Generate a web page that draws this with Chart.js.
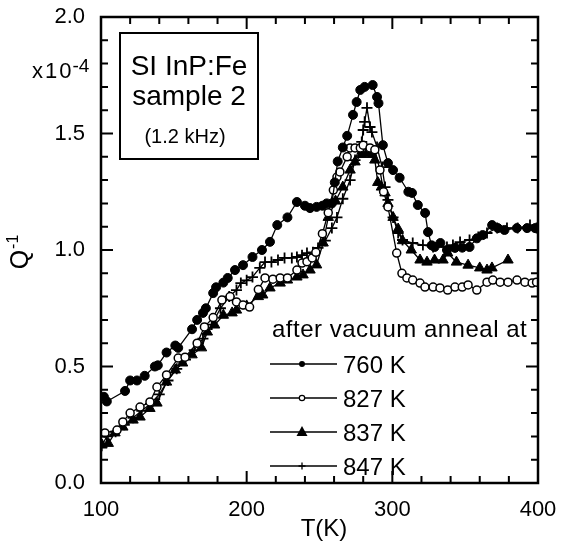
<!DOCTYPE html>
<html>
<head>
<meta charset="utf-8">
<script src="https://cdn.jsdelivr.net/npm/chart.js@4.4.1/dist/chart.umd.min.js"></script>
<style>
  body { margin: 0; background: #fff; }
  #wrap { width: 566px; height: 545px; }
</style>
</head>
<body>
<div id="wrap"><canvas id="qChart" width="566" height="545"></canvas></div>
<script>
// Q^-1 (x10^-4) vs T(K), SI InP:Fe sample 2, 1.2 kHz
const seriesNames = ['760 K', '827 K', '837 K', '847 K'];

const t760 = [102, 104, 116.5, 120, 124.7, 130, 137, 139, 145, 151, 153, 162.5, 166, 170, 172, 177, 179, 184, 187, 192, 197.5, 204, 210.5, 216, 221, 228, 234.5, 240, 243.5, 248, 252, 255, 258.5, 260.5, 262.5, 266, 269, 273, 275.5, 278, 281, 286.5, 289.5, 290.5, 293.5, 297, 300.5, 305, 311, 313.5, 317.5, 322.5, 324.5, 327, 329, 333, 337.5, 343, 348, 353, 358, 362, 368.5, 372.5, 377, 385.5, 392.5, 398];
const q760 = [0.37, 0.35, 0.395, 0.44, 0.44, 0.46, 0.50, 0.505, 0.56, 0.59, 0.58, 0.66, 0.70, 0.73, 0.75, 0.815, 0.84, 0.86, 0.88, 0.914, 0.935, 0.97, 1.0, 1.035, 1.107, 1.14, 1.206, 1.19, 1.18, 1.185, 1.19, 1.20, 1.20, 1.29, 1.38, 1.44, 1.49, 1.58, 1.635, 1.687, 1.70, 1.708, 1.657, 1.63, 1.45, 1.373, 1.343, 1.31, 1.25, 1.245, 1.193, 1.159, 1.077, 1.02, 1.013, 1.03, 1.0, 1.009, 1.01, 1.013, 1.05, 1.064, 1.107, 1.094, 1.086, 1.094, 1.094, 1.094];

const t827 = [102.7, 111, 115, 120, 126.8, 133.6, 138.4, 145, 153, 157.7, 166, 171, 177, 183, 188.6, 193, 197.5, 202, 208, 212.6, 218, 223, 228, 234.5, 238, 241.4, 245, 247.5, 252, 256, 259.5, 262, 264, 269, 271, 274.4, 278, 280, 284.7, 288, 291.5, 294, 297, 303, 306.6, 310, 314, 319, 322.4, 328, 332.7, 338, 343, 348, 352, 358, 365, 369, 374, 379.4, 385.6, 391, 396, 399];
const q827 = [0.215, 0.227, 0.262, 0.30, 0.326, 0.348, 0.412, 0.464, 0.536, 0.54, 0.60, 0.67, 0.71, 0.785, 0.80, 0.777, 0.764, 0.755, 0.83, 0.88, 0.875, 0.88, 0.88, 0.914, 0.944, 0.95, 0.966, 0.99, 1.07, 1.16, 1.257, 1.313, 1.335, 1.40, 1.438, 1.438, 1.438, 1.45, 1.438, 1.43, 1.343, 1.25, 1.185, 0.987, 0.90, 0.88, 0.871, 0.858, 0.841, 0.841, 0.837, 0.828, 0.841, 0.841, 0.85, 0.828, 0.862, 0.871, 0.862, 0.862, 0.871, 0.862, 0.858, 0.862];

const t837 = [100.7, 105, 109.6, 115, 122, 126.8, 133.6, 138.4, 145, 151, 156, 162.5, 169, 173, 178, 184, 190, 193, 200, 208, 211, 216, 223, 228, 234.5, 238.7, 243.5, 248, 252.5, 256, 261, 266, 271, 274.4, 279, 282.6, 286, 288, 290, 292.5, 295, 297, 300.5, 304, 307, 313, 319, 323.8, 329, 334.8, 338, 344, 352, 360, 365, 368.4, 379.4];
const q837 = [0.163, 0.17, 0.215, 0.24, 0.27, 0.283, 0.32, 0.343, 0.433, 0.485, 0.515, 0.55, 0.58, 0.648, 0.678, 0.72, 0.73, 0.742, 0.76, 0.80, 0.807, 0.837, 0.858, 0.871, 0.884, 0.893, 0.914, 0.936, 1.03, 1.14, 1.21, 1.27, 1.343, 1.378, 1.41, 1.416, 1.41, 1.386, 1.29, 1.27, 1.245, 1.2, 1.14, 1.09, 1.04, 1.0, 0.957, 0.948, 0.957, 0.957, 0.987, 0.948, 0.935, 0.923, 0.914, 0.923, 0.957];

const t847 = [100.5, 104, 110, 116, 122, 128, 134, 140, 146, 152, 158, 164, 170, 176, 182, 188, 193, 196, 200, 204, 209, 212.6, 217, 221.5, 226, 231, 234.5, 238, 241.4, 245.5, 249, 254, 258.5, 262, 266, 271, 274.4, 277, 279, 280, 281, 282.6, 284.7, 286, 289.5, 293, 295, 297, 300.5, 304, 307, 314, 321, 328, 337.5, 341.6, 346.5, 353, 359, 365, 372, 378.7, 386, 394.5, 399];
const q847 = [0.16, 0.20, 0.22, 0.25, 0.28, 0.31, 0.34, 0.38, 0.44, 0.49, 0.53, 0.57, 0.62, 0.68, 0.75, 0.80, 0.828, 0.858, 0.87, 0.884, 0.923, 0.948, 0.948, 0.957, 0.966, 0.966, 0.97, 0.978, 0.987, 0.99, 1.009, 1.04, 1.094, 1.14, 1.22, 1.30, 1.386, 1.43, 1.464, 1.515, 1.55, 1.61, 1.528, 1.506, 1.442, 1.356, 1.27, 1.215, 1.14, 1.073, 1.043, 1.03, 1.021, 1.013, 1.013, 1.021, 1.034, 1.043, 1.056, 1.073, 1.094, 1.094, 1.094, 1.107, 1.094];

const xTickLabels = [100, 200, 300, 400];
const yTickLabels = ['0.0', '0.5', '1.0', '1.5', '2.0'];

const FONT = "'Liberation Sans', Arial, Helvetica, sans-serif";

function toPts(xs, ys) {
    return xs.map((x, i) => ({ x: x, y: ys[i] }));
}

// marker styles per series
const markerStyles = [
    { pointStyle: 'circle', radius: 4.5, fill: '#000', bw: 1 },
    { pointStyle: 'circle', radius: 4, fill: '#fff', bw: 1.5 },
    { pointStyle: 'triangle', radius: 6, fill: '#000', bw: 1 },
    { pointStyle: 'cross', radius: 5.5, fill: '#000', bw: 1.8 }
];
const allT = [t760, t827, t837, t847];
const allQ = [q760, q827, q837, q847];

const datasets = seriesNames.map((name, i) => ({
    label: name,
    data: toPts(allT[i], allQ[i]),
    showLine: true,
    borderColor: '#000',
    borderWidth: 1.3,
    pointStyle: markerStyles[i].pointStyle,
    pointRadius: markerStyles[i].radius,
    pointBackgroundColor: markerStyles[i].fill,
    pointBorderColor: '#000',
    pointBorderWidth: markerStyles[i].bw,
    tension: 0
}));

// small marker for the legend samples
function drawMarker(ctx, i, x, y) {
    ctx.save();
    ctx.strokeStyle = '#000';
    ctx.fillStyle = '#000';
    if (i === 0) {
        ctx.beginPath(); ctx.arc(x, y, 3, 0, Math.PI * 2); ctx.fill();
    } else if (i === 1) {
        ctx.fillStyle = '#fff'; ctx.lineWidth = 1.2;
        ctx.beginPath(); ctx.arc(x, y, 2.7, 0, Math.PI * 2); ctx.fill(); ctx.stroke();
    } else if (i === 2) {
        ctx.beginPath(); ctx.moveTo(x, y - 6); ctx.lineTo(x + 5.5, y + 4); ctx.lineTo(x - 5.5, y + 4); ctx.closePath(); ctx.fill();
    } else {
        ctx.lineWidth = 1.3;
        ctx.beginPath(); ctx.moveTo(x - 3.5, y); ctx.lineTo(x + 3.5, y); ctx.moveTo(x, y - 3.5); ctx.lineTo(x, y + 3.5); ctx.stroke();
    }
    ctx.restore();
}

const framePlugin = {
    id: 'frame',
    afterDraw(chart) {
        const ctx = chart.ctx;
        const a = chart.chartArea;
        const xs = chart.scales.x, ys = chart.scales.y;
        ctx.save();
        ctx.strokeStyle = '#000';
        ctx.fillStyle = '#000';

        // ticks on all four sides, pointing inward
        ctx.lineWidth = 2;
        ctx.beginPath();
        for (let v = 100; v <= 400; v += 20) {
            const px = xs.getPixelForValue(v);
            const len = (v % 100 === 0) ? 12 : 7;
            ctx.moveTo(px, a.bottom); ctx.lineTo(px, a.bottom - len);
            ctx.moveTo(px, a.top); ctx.lineTo(px, a.top + len);
        }
        for (let k = 0; k <= 20; k++) {
            const py = ys.getPixelForValue(k / 10);
            const len = (k % 5 === 0) ? 12 : 7;
            ctx.moveTo(a.left, py); ctx.lineTo(a.left + len, py);
            ctx.moveTo(a.right, py); ctx.lineTo(a.right - len, py);
        }
        ctx.stroke();

        ctx.lineWidth = 2.5;
        ctx.strokeRect(a.left, a.top, a.right - a.left, a.bottom - a.top);

        // x10-4 multiplier
        ctx.textAlign = 'left';
        ctx.textBaseline = 'alphabetic';
        ctx.font = '22px ' + FONT;
        ctx.letterSpacing = '2px';
        ctx.fillText('x10', 32, 78);
        const wx = ctx.measureText('x10').width;
        ctx.letterSpacing = '0px';
        ctx.font = '19px ' + FONT;
        ctx.fillText('-4', 32 + wx - 1, 72);

        // y title Q-1
        ctx.save();
        ctx.translate(28, 252);
        ctx.rotate(-Math.PI / 2);
        ctx.font = '25px ' + FONT;
        const wq = ctx.measureText('Q').width;
        ctx.font = '16px ' + FONT;
        const ws = ctx.measureText('-1').width;
        const x0 = -(wq + ws + 1) / 2;
        ctx.font = '25px ' + FONT;
        ctx.fillText('Q', x0, 0);
        ctx.font = '16px ' + FONT;
        ctx.fillText('-1', x0 + wq + 1, -10);
        ctx.restore();

        // x title
        ctx.font = '24px ' + FONT;
        ctx.textAlign = 'center';
        ctx.fillText('T(K)', 324, 536);

        // inset box
        ctx.lineWidth = 2;
        ctx.strokeRect(120, 33, 138, 126);
        ctx.font = '28px ' + FONT;
        ctx.fillText('SI InP:Fe', 189, 75);
        ctx.fillText('sample 2', 189, 105);
        ctx.font = '20px ' + FONT;
        ctx.fillText('(1.2 kHz)', 185, 143);

        // legend
        ctx.textAlign = 'left';
        ctx.font = '24px ' + FONT;
        ctx.letterSpacing = '0.5px';
        ctx.fillText('after vacuum anneal at', 272, 337);
        ctx.letterSpacing = '0px';
        seriesNames.forEach((name, i) => {
            const base = 373 + i * 34;
            const ly = base - 9;
            ctx.lineWidth = 1.3;
            ctx.beginPath(); ctx.moveTo(270, ly); ctx.lineTo(337, ly); ctx.stroke();
            drawMarker(ctx, i, 302, ly);
            ctx.font = '24px ' + FONT;
            ctx.fillText(name, 343, base);
        });
        ctx.restore();
    }
};

new Chart(document.getElementById('qChart'), {
    type: 'scatter',
    data: { datasets: datasets },
    options: {
        responsive: false,
        animation: false,
        layout: { padding: { left: 0, right: 28, top: 17, bottom: 0 } },
        plugins: {
            legend: { display: false },
            tooltip: { enabled: false }
        },
        scales: {
            x: {
                type: 'linear',
                min: 100, max: 400,
                afterFit: (s) => { s.height = 62; s.paddingLeft = 0; s.paddingRight = 0; },
                afterBuildTicks: (s) => { s.ticks = xTickLabels.map(v => ({ value: v })); },
                grid: { display: false, drawTicks: false },
                border: { display: false },
                ticks: {
                    padding: 14,
                    color: '#000',
                    font: { family: FONT, size: 22 },
                    callback: (v) => String(v)
                }
            },
            y: {
                min: 0, max: 2,
                afterFit: (s) => { s.width = 101; s.paddingTop = 0; s.paddingBottom = 0; },
                afterBuildTicks: (s) => { s.ticks = yTickLabels.map(v => ({ value: parseFloat(v) })); },
                grid: { display: false, drawTicks: false },
                border: { display: false },
                ticks: {
                    padding: 16,
                    color: '#000',
                    font: { family: FONT, size: 22 },
                    callback: (v) => yTickLabels[Math.round(v * 2)]
                }
            }
        }
    },
    plugins: [framePlugin]
});
</script>
</body>
</html>
